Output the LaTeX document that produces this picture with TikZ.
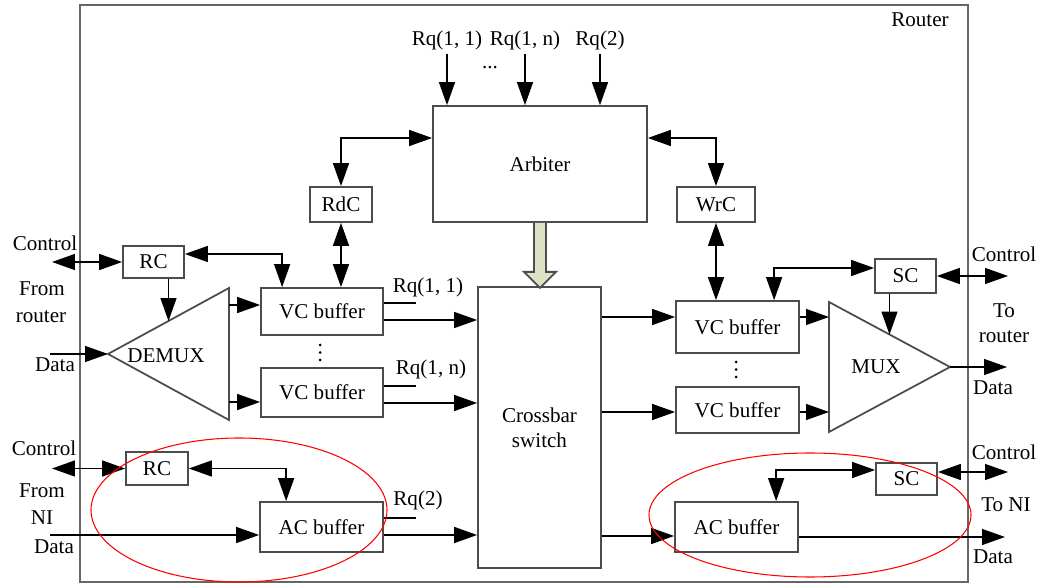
\documentclass[tikz,border=0pt]{standalone}
\usepackage{fontspec}
\setmainfont{Liberation Serif}
\usetikzlibrary{calc,arrows.meta}
\definecolor{sage}{HTML}{DCE3C5}

\tikzset{
  blk/.style 2 args={draw=black!70, line width=1pt, minimum width=#1*0.02cm, minimum height=#2*0.02cm, inner sep=0pt},
  tri/.style={draw=black!70, line width=1pt},
  frame/.style={draw=black!60, line width=1.2pt},
  ln/.style={line width=0.8pt},
  arr/.style={-{Triangle[length=0.46cm,width=0.32cm]}, line width=0.8pt},
  dbl/.style={{Triangle[length=0.46cm,width=0.32cm]}-{Triangle[length=0.46cm,width=0.32cm]}, line width=0.8pt},
  lbl/.style={inner sep=0pt},
  zone/.style={draw=red, line width=0.6pt},
}

\begin{document}
\begin{tikzpicture}[x=0.02cm, y=-0.02cm, font=\fontsize{12}{14}\selectfont]
    \useasboundingbox (0,0) rectangle (1039,584);

    % --- router frame ---
    \draw[frame] (80,5) rectangle (968,582);
    \node[lbl] (router) at (920,20) {Router};

    % --- arbiter with read / write controllers ---
    \node[blk={214}{116}] (arbiter) at (540,164) {Arbiter};
    \node[blk={62}{35}] (rdc) at (341,204.5) {RdC};
    \node[blk={78}{35}] (wrc) at (716,204.5) {WrC};
    \node[lbl] (rqa) at (447,40) {Rq(1, 1)};
    \node[lbl] (rqb) at (525,40) {Rq(1, n)};
    \node[lbl] (rqc) at (600,40) {Rq(2)};
    \node[lbl] (rqdots) at (490,68) {...};

    % --- crossbar ---
    \node[blk={123}{281}, align=center] (xbar) at (539.5,427.5) {Crossbar\\switch};

    % --- input side ---
    \node[blk={61}{32}] (rcR) at (153.5,262) {RC};
    \node[blk={62}{33}] (rcN) at (157,468.5) {RC};
    \node[blk={122}{47}] (vcA) at (322,311.5) {VC buffer};
    \node[blk={122}{49}] (vcB) at (322,392.5) {VC buffer};
    \node[blk={123}{50}] (acIn) at (321.5,527) {AC buffer};
    \foreach \k in {0,1,2} \fill (320,345+7.5*\k) circle [radius=1.5];
    \coordinate (dmxA) at (108,354);
    \coordinate (dmxB) at (229,288);
    \coordinate (dmxC) at (229,420);
    \draw[tri] (dmxA) -- (dmxB) -- (dmxC) -- cycle;
    \node[lbl] (demux) at (166,356) {DEMUX};
    \node[lbl] (rqA) at (428,287) {Rq(1, 1)};
    \node[lbl] (rqB) at (431,369) {Rq(1, n)};
    \node[lbl] (rqC) at (418,500) {Rq(2)};

    % --- output side ---
    \node[blk={123}{52}] (vcC) at (737.5,327) {VC buffer};
    \node[blk={123}{46}] (vcD) at (737.5,410) {VC buffer};
    \node[blk={123}{50}] (acOut) at (736.5,527) {AC buffer};
    \node[blk={61}{34}] (scR) at (905.5,276) {SC};
    \node[blk={61}{32}] (scN) at (906.5,479) {SC};
    \foreach \k in {0,1,2} \fill (736,362+7.5*\k) circle [radius=1.5];
    \coordinate (muxA) at (829,302);
    \coordinate (muxB) at (950,367);
    \coordinate (muxC) at (829,432);
    \draw[tri] (muxA) -- (muxB) -- (muxC) -- cycle;
    \node[lbl] (mux) at (876,367) {MUX};

    % --- port labels ---
    \node[lbl] (ctlA) at (45,243) {Control};
    \node[lbl] (fromA) at (42,289) {From};
    \node[lbl] (rtA) at (41,317) {router};
    \node[lbl] (dataA) at (55,365) {Data};
    \node[lbl] (ctlB) at (44,448) {Control};
    \node[lbl] (fromB) at (42,491) {From};
    \node[lbl] (niB) at (42,518) {NI};
    \node[lbl] (dataB) at (54,547) {Data};
    \node[lbl] (ctlC) at (1004,254) {Control};
    \node[lbl] (toC) at (1004,311) {To};
    \node[lbl] (rtC) at (1004,337) {router};
    \node[lbl] (dataC) at (993,388) {Data};
    \node[lbl] (ctlD) at (1004,452) {Control};
    \node[lbl] (toD) at (1006,505) {To NI};
    \node[lbl] (dataD) at (993,557) {Data};

    % free ends of the port wires
    \coordinate (ctlAe) at (52,262);
    \coordinate (dataAe) at (50,354);
    \coordinate (ctlBe) at (52,468.5);
    \coordinate (dataBe) at (50,535);
    \coordinate (ctlCe) at (1008,276);
    \coordinate (dataCe) at (1007,367);
    \coordinate (ctlDe) at (1008,472);
    \coordinate (dataDe) at (1005,537);

    % --- arbiter wiring ---
    \draw[arr] (rqa.south) ++(0,4) -- (rqa.south |- arbiter.north);
    \draw[arr] (rqb.south) ++(0,4) -- (rqb.south |- arbiter.north);
    \draw[arr] (rqc.south) ++(0,4) -- (rqc.south |- arbiter.north);
    \draw[dbl] (rdc.north) |- ($(arbiter.west)+(0,-26)$);
    \draw[dbl] (wrc.north) |- ($(arbiter.east)+(0,-26)$);
    \draw[dbl] (rdc.south) -- (rdc.south |- vcA.north);
    \draw[dbl] (wrc.south) -- (wrc.south |- vcC.north);
    % grant arrow arbiter -> crossbar
    \draw[tri, fill=sage] (arbiter.south) ++(-6,0) -- ++(0,49) -- ++(-10,0) -- ++(16,16)
        -- ++(16,-16) -- ++(-10,0) -- ++(0,-49);

    % --- input side wiring ---
    \draw[dbl] (ctlAe) -- (rcR.west);
    \draw[dbl] ($(rcR.east)+(0,-8)$) -| ($(vcA.north west)+(22,0)$);
    \coordinate (dmxT) at ($(dmxA)!0.5!(dmxB)$);
    \draw[arr] (dmxT |- rcR.south) -- (dmxT);
    \draw[arr] (dataAe) -- (dmxA);
    \coordinate (vcAi) at ($(vcA.west)+(0,-6.5)$);
    \coordinate (vcBi) at ($(vcB.west)+(0,9.5)$);
    \draw[arr] (vcAi -| dmxB) -- (vcAi);
    \draw[arr] (vcBi -| dmxB) -- (vcBi);
    \draw[ln] ($(vcA.east)+(0,-8.5)$) -- ++(32,0);
    \draw[ln] ($(vcB.east)+(0,-6.5)$) -- ++(32,0);
    \draw[ln] ($(acIn.east)+(0,-9)$) -- ++(32,0);
    \coordinate (vcAo) at ($(vcA.east)+(0,8.5)$);
    \coordinate (vcBo) at ($(vcB.east)+(0,10.5)$);
    \coordinate (acIo) at ($(acIn.east)+(0,8)$);
    \draw[arr] (vcAo) -- (vcAo -| xbar.west);
    \draw[arr] (vcBo) -- (vcBo -| xbar.west);
    \draw[arr] (acIo) -- (acIo -| xbar.west);
    \draw[dbl] (ctlBe) -- (rcN.west);
    \draw[dbl] (rcN.east) -| ($(acIn.north west)+(27,0)$);
    \draw[arr] (dataBe) -- (dataBe -| acIn.west);

    % --- output side wiring ---
    \coordinate (vcCi) at ($(vcC.west)+(0,-10)$);
    \coordinate (vcDi) at ($(vcD.west)+(0,2)$);
    \coordinate (acOi) at ($(acOut.west)+(0,9)$);
    \draw[arr] (vcCi -| xbar.east) -- (vcCi);
    \draw[arr] (vcDi -| xbar.east) -- (vcDi);
    \draw[arr] (acOi -| xbar.east) -- (acOi);
    \coordinate (vcCo) at ($(vcC.east)+(0,-10)$);
    \coordinate (vcDo) at ($(vcD.east)+(0,2)$);
    \draw[arr] (vcCo) -- (vcCo -| muxA);
    \draw[arr] (vcDo) -- (vcDo -| muxA);
    \draw[dbl] ($(scR.west)+(0,-8)$) -| ($(vcC.north west)+(99,0)$);
    \draw[dbl] (scR.east) -- (ctlCe);
    \coordinate (muxT) at ($(muxA)!0.5!(muxB)$);
    \draw[arr] (muxT |- scR.south) -- (muxT);
    \draw[arr] (muxB) -- (dataCe);
    \draw[dbl] ($(scN.west)+(0,-9)$) -| ($(acOut.north west)+(102,0)$);
    \draw[dbl] ($(scN.east)+(0,-7)$) -- (ctlDe);
    \coordinate (acOo) at ($(acOut.east)+(0,10)$);
    \draw[arr] (acOo) -- (acOo -| dataDe);

    % --- highlighted access-control paths ---
    \draw[zone] (239,510) ellipse [x radius=148, y radius=72];
    \draw[zone] (810,515) ellipse [x radius=161, y radius=62];

\end{tikzpicture}
\end{document}
